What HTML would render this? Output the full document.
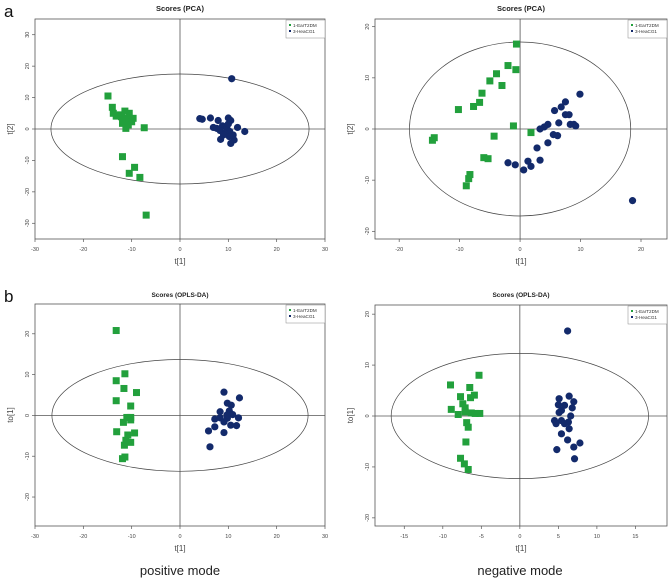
<!DOCTYPE html>
<html><head><meta charset="utf-8"><style>
html,body{margin:0;padding:0;background:#fff;}
svg{display:block;font-family:"Liberation Sans",sans-serif;}
</style></head><body>
<svg id="fig" width="669" height="578" viewBox="0 0 669 578">
<text x="4" y="17" font-size="17" fill="#111">a</text>
<text x="4" y="302" font-size="17" fill="#111">b</text>
<text x="180" y="575" font-size="13" text-anchor="middle" fill="#222">positive mode</text>
<text x="520" y="575" font-size="13" text-anchor="middle" fill="#222">negative mode</text>
</svg>
<script>
// Panel A: PCA positive
const aGreenX=[-14.9,-14.0,-13.8,-13.2,-12.4,-11.4,-10.5,-11,-11.9,-10.7,-11.2,-9.7,-12.1,-10,-7.4,-11.9,-9.4,-10.5,-8.3,-7.0];
const aGreenY=[10.5,6.9,5.0,4.1,4.5,5.7,5.0,3.4,1.8,1.3,0.2,3.4,3.9,2.3,0.4,-8.8,-12.2,-14.1,-15.4,-27.4];
const aBlueX=[10.7,4.1,4.6,6.3,7.9,10,10.5,6.9,8.8,9.7,11.9,13.4,8.4,11.2,10.5,8.3,10.3,11,9.3,10.2,7.6,9,10];
const aBlueY=[16.0,3.3,3.1,3.5,2.7,3.5,2.7,0.5,1,0.2,0.5,-0.8,-3.3,-3.5,-4.6,-0.5,-0.8,-1.9,-1.4,-2.4,0.2,-1.9,1.6];
const aXTicks=[-30,-20,-10,0,10,20,30];
const aYTicks=[-30,-20,-10,0,10,20,30];
// Panel B: PCA negative
const bGreenX=[-0.6,-2.0,-0.7,-3.9,-5,-3,-6.3,-6.7,-7.7,-10.2,-1.1,1.8,-4.3,-14.2,-14.5,-6,-5.3,-8.3,-8.5,-8.9];
const bGreenY=[16.6,12.4,11.6,10.8,9.4,8.5,7.0,5.2,4.4,3.8,0.6,-0.7,-1.4,-1.7,-2.2,-5.6,-5.8,-8.9,-9.7,-11.1];
const bBlueX=[9.9,7.5,6.8,5.7,7.5,8.1,6.4,8.3,9.2,8.9,4.6,4.0,3.3,5.5,6.2,4.6,2.8,3.3,1.3,1.8,-2.0,-0.8,0.6,18.6];
const bBlueY=[6.8,5.3,4.3,3.6,2.8,2.8,1.2,0.9,0.6,0.9,0.9,0.4,0,-1.1,-1.3,-2.7,-3.7,-6.1,-6.3,-7.3,-6.6,-7.0,-8.0,-14.0];
const bXTicks=[-20,-10,0,10,20];
const bYTicks=[-20,-10,0,10,20];
// Panel C: OPLS-DA positive
const cGreenX=[-13.2,-11.4,-13.2,-11.6,-9.0,-13.2,-10.2,-11,-10.2,-10.2,-11.7,-13.1,-9.4,-10.8,-11.2,-10.2,-11.5,-11.4,-11.9];
const cGreenY=[20.8,10.2,8.5,6.6,5.6,3.6,2.3,-0.5,-0.5,-1.1,-1.7,-4.0,-4.3,-4.8,-6.1,-6.6,-7.3,-10.2,-10.6];
const cBlueX=[9.1,12.3,9.8,10.6,8.3,10.2,10.9,12.1,7.2,8.3,9.1,9.8,10.5,11.7,7.2,5.9,9.1,6.2,9.7];
const cBlueY=[5.7,4.3,3.0,2.5,0.9,1.1,0.2,-0.6,-0.9,-0.6,-1.6,-0.7,-2.4,-2.5,-2.8,-3.8,-4.2,-7.7,0.1];
const cXTicks=[-30,-20,-10,0,10,20,30];
const cYTicks=[-20,-10,0,10,20];
// Panel D: OPLS-DA negative
const dGreenX=[-5.3,-9,-6.5,-5.9,-6.4,-7.7,-7.4,-7.1,-8.9,-8.0,-7.1,-6.3,-5.2,-5.8,-6.9,-6.7,-7,-7.7,-7.2,-6.7];
const dGreenY=[8.0,6.1,5.6,4.1,3.6,3.8,2.4,1.6,1.3,0.3,0.8,0.6,0.5,0.5,-1.3,-2.2,-5.1,-8.3,-9.4,-10.5];
const dBlueX=[6.2,5.1,6.4,7.0,5.0,5.8,6.8,5.4,5.1,6.6,4.5,5.4,6.3,4.7,5.8,6.4,5.4,6.2,7.8,7.0,4.8,7.1];
const dBlueY=[16.7,3.4,3.9,2.8,2.2,2.1,1.6,1.1,0.7,0,-0.9,-0.9,-1.2,-1.5,-1.5,-2.5,-3.5,-4.7,-5.3,-6.1,-6.6,-8.4];
const dXTicks=[-15,-10,-5,0,5,10,15];
const dYTicks=[-20,-10,0,10,20];

const NS='http://www.w3.org/2000/svg';
const svg=document.getElementById('fig');
const GREEN='#22a03c', NAVY='#132a6b';
function mk(tag,attrs,parent){const e=document.createElementNS(NS,tag);for(const k in attrs)e.setAttribute(k,attrs[k]);(parent||svg).appendChild(e);return e;}

function panel(id,cfg){
  const g=mk('g',{});
  
  
  const L=cfg.L,R=cfg.R,T=cfg.T,B=cfg.B;
  const sx=v=>L+(v-cfg.x0)/(cfg.x1-cfg.x0)*(R-L);
  const sy=v=>B-(v-cfg.y0)/(cfg.y1-cfg.y0)*(B-T);
  const t=mk('text',{x:(L+R)/2,y:cfg.titleY,'font-size':cfg.titleSize,'font-weight':'bold','text-anchor':'middle',fill:'#222'},g);
  t.textContent=cfg.title;
  
  
  const box=mk('rect',{x:L,y:T,width:R-L,height:B-T,fill:'none',stroke:'#555','stroke-width':0.8},g);
  
  
  const zx=mk('line',{x1:sx(0),x2:sx(0),y1:T,y2:B,stroke:'#555','stroke-width':0.8},g);
  
  
  const zy=mk('line',{x1:L,x2:R,y1:sy(0),y2:sy(0),stroke:'#555','stroke-width':0.8},g);
  
  
  const el=mk('ellipse',{cx:sx(0),cy:sy(0),rx:sx(cfg.erx)-sx(0),ry:sy(0)-sy(cfg.ery),fill:'none',stroke:'#444','stroke-width':0.7},g);
  
  
  cfg.xt.forEach(v=>{
    const tk=mk('line',{x1:sx(v),x2:sx(v),y1:B,y2:B+3,stroke:'#555','stroke-width':0.7},g);
    
    
    const tl=mk('text',{x:sx(v),y:B+12,'font-size':5.5,'text-anchor':'middle',fill:'#444'},g);
    tl.textContent=v;
    
    
  });
  cfg.yt.forEach(v=>{
    const tk=mk('line',{x1:L-3,x2:L,y1:sy(v),y2:sy(v),stroke:'#555','stroke-width':0.7},g);
    
    
    const tl=mk('text',{x:L-6,y:sy(v),'font-size':5.5,'text-anchor':'middle',fill:'#444',transform:`rotate(-90 ${L-6} ${sy(v)})`},g);
    tl.textContent=v;
    
    
  });
  const xl=mk('text',{x:(L+R)/2,y:B+25,'font-size':8,'text-anchor':'middle',fill:'#444'},g);
  xl.textContent='t[1]';
  
  
  const yx=L-22, yy=(T+B)/2;
  const yl=mk('text',{x:yx,y:yy,'font-size':8,'text-anchor':'middle',fill:'#444',transform:`rotate(-90 ${yx} ${yy})`},g);
  yl.textContent=cfg.ylab;
  
  
  cfg.gx.forEach((v,i)=>{
    const s=mk('rect',{x:sx(v)-3.5,y:sy(cfg.gy[i])-3.5,width:7,height:7,fill:GREEN},g);
    
    
  });
  cfg.bx.forEach((v,i)=>{
    const c=mk('circle',{cx:sx(v),cy:sy(cfg.by[i]),r:3.6,fill:NAVY},g);
    
    
  });
  const lg=mk('g',{},g);
  
  
  mk('rect',{x:R-39,y:T+1,width:39,height:18,fill:'#fff',stroke:'#888','stroke-width':0.5},lg);
  [['1-EarT2DM',GREEN],['3-HeaCG1',NAVY]].forEach((e,i)=>{
    const it=mk('g',{},lg);
    
    
    mk('rect',{x:R-36,y:T+5+i*6,width:2,height:2,fill:e[1]},it);
    const tx=mk('text',{x:R-32,y:T+7.8+i*6,'font-size':4.6,fill:'#333'},it);
    tx.textContent=e[0];
  });
}
panel('pca-positive',{L:35,R:325,T:19,B:239,x0:-30,x1:30,y0:-35,y1:35,erx:26.7,ery:17.5,xt:aXTicks,yt:aYTicks,gx:aGreenX,gy:aGreenY,bx:aBlueX,by:aBlueY,title:'Scores (PCA)',titleY:11,titleSize:7.5,ylab:'t[2]'});
panel('pca-negative',{L:375,R:667,T:19,B:239,x0:-24,x1:24.3,y0:-21.5,y1:21.5,erx:18.3,ery:17,xt:bXTicks,yt:bYTicks,gx:bGreenX,gy:bGreenY,bx:bBlueX,by:bBlueY,title:'Scores (PCA)',titleY:11,titleSize:7.5,ylab:'t[2]'});
panel('oplsda-positive',{L:35,R:325,T:304,B:526,x0:-30,x1:30,y0:-27.1,y1:27.3,erx:26.5,ery:13.7,xt:cXTicks,yt:cYTicks,gx:cGreenX,gy:cGreenY,bx:cBlueX,by:cBlueY,title:'Scores (OPLS-DA)',titleY:297,titleSize:6.5,ylab:'to[1]'});
panel('oplsda-negative',{L:375,R:667,T:305,B:526,x0:-18.8,x1:19.1,y0:-21.6,y1:21.8,erx:16.7,ery:12.3,xt:dXTicks,yt:dYTicks,gx:dGreenX,gy:dGreenY,bx:dBlueX,by:dBlueY,title:'Scores (OPLS-DA)',titleY:297,titleSize:6.5,ylab:'to[1]'});
</script>
</body></html>
